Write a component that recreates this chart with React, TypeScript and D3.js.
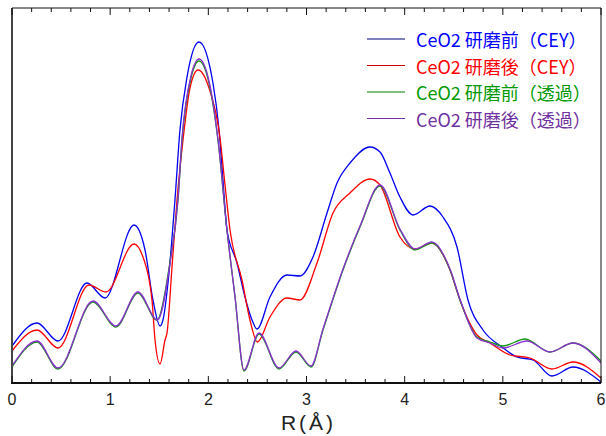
import React from "react";
import * as d3 from "d3";

// R (Å), intensity (arb. units)
const blueCEYBefore: [number, number][] = [
  [0, 0.37], [0.255, 0.6], [0.469, 0.42], [0.764, 1.0], [0.947, 0.85], [1.243, 1.58],
  [1.355, 1.33], [1.436, 0.83], [1.508, 0.57], [1.538, 0.63], [1.589, 1.0], [1.66, 1.83],
  [1.711, 2.53], [1.783, 3.06], [1.905, 3.41], [2.047, 3.0], [2.109, 2.53], [2.149, 2.03],
  [2.19, 1.53], [2.292, 1.2], [2.373, 0.86], [2.445, 0.63], [2.496, 0.54], [2.628, 0.86],
  [2.801, 1.08], [2.934, 1.07], [3.066, 1.26], [3.209, 1.7], [3.311, 2.0], [3.443, 2.2],
  [3.647, 2.36], [3.749, 2.31], [3.85, 2.1], [3.952, 1.86], [4.085, 1.68], [4.258, 1.77],
  [4.39, 1.66], [4.533, 1.36], [4.645, 0.83], [4.798, 0.53], [4.991, 0.36], [5.144, 0.26],
  [5.307, 0.23], [5.501, 0.07], [5.715, 0.16], [6.0, 0.01],
];

const redCEYAfter: [number, number][] = [
  [0, 0.32], [0.255, 0.53], [0.469, 0.35], [0.784, 0.98], [0.957, 0.91], [1.243, 1.39],
  [1.334, 1.26], [1.426, 0.83], [1.457, 0.43], [1.508, 0.19], [1.559, 0.43], [1.579, 0.5],
  [1.63, 1.16], [1.681, 1.83], [1.742, 2.43], [1.813, 2.95], [1.895, 3.13], [2.007, 2.95],
  [2.119, 2.45], [2.17, 1.98], [2.221, 1.53], [2.343, 1.03], [2.424, 0.63], [2.5, 0.41],
  [2.628, 0.66], [2.801, 0.85], [2.934, 0.83], [3.107, 1.2], [3.27, 1.7], [3.443, 1.9],
  [3.647, 2.04], [3.749, 1.98], [3.952, 1.46], [4.105, 1.34], [4.278, 1.4], [4.462, 1.13],
  [4.563, 0.83], [4.737, 0.48], [4.869, 0.4], [5.073, 0.28], [5.277, 0.25], [5.501, 0.14],
  [5.715, 0.21], [6.0, 0.05],
];

const greenTransBefore: [number, number][] = [
  [0, 0.16], [0.255, 0.41], [0.469, 0.14], [0.825, 0.81], [1.059, 0.56], [1.283, 0.9],
  [1.477, 0.63], [1.609, 1.21], [1.691, 1.83], [1.732, 2.43], [1.823, 3.05], [1.905, 3.22],
  [1.997, 3.04], [2.098, 2.43], [2.19, 1.53], [2.272, 0.86], [2.363, 0.12], [2.516, 0.49],
  [2.72, 0.14], [2.893, 0.31], [3.046, 0.16], [3.168, 0.53], [3.372, 1.13], [3.545, 1.56],
  [3.749, 1.97], [3.952, 1.53], [4.105, 1.33], [4.278, 1.4], [4.462, 1.13], [4.563, 0.83],
  [4.737, 0.46], [4.869, 0.41], [5.001, 0.37], [5.226, 0.44], [5.48, 0.31], [5.715, 0.4],
  [6.0, 0.22],
];

const purpleTransAfter: [number, number][] = [
  [0, 0.17], [0.255, 0.42], [0.469, 0.15], [0.825, 0.82], [1.059, 0.57], [1.283, 0.91],
  [1.482, 0.63], [1.612, 1.21], [1.691, 1.84], [1.732, 2.45], [1.823, 3.07], [1.905, 3.24],
  [1.997, 3.06], [2.098, 2.44], [2.19, 1.53], [2.272, 0.86], [2.363, 0.13], [2.516, 0.5],
  [2.72, 0.15], [2.893, 0.32], [3.046, 0.17], [3.168, 0.54], [3.372, 1.14], [3.545, 1.57],
  [3.749, 1.98], [3.952, 1.54], [4.105, 1.34], [4.278, 1.41], [4.462, 1.14], [4.563, 0.84],
  [4.737, 0.45], [4.869, 0.4], [5.001, 0.35], [5.246, 0.42], [5.48, 0.31], [5.715, 0.4],
  [6.0, 0.2],
];

const seriesNames = ["CeO2 研磨前（CEY）", "CeO2 研磨後（CEY）", "CeO2 研磨前（透過）", "CeO2 研磨後（透過）"];
const lineColors = ["#0000f0", "#ff0000", "#119911", "#8a2fd0"];
const textColors = ["#0000ff", "#ff0000", "#009900", "#7030a0"];
const legendLineColors = ["#000080", "#cc0000", "#008000", "#7030a0"];
const xTicks = [0, 1, 2, 3, 4, 5, 6];

const W = 606;
const H = 436;
const left = 12;
const right = 601;
const top = 8;
const bottom = 383;

export default function App() {
  const x = d3.scaleLinear().domain([0, 6]).range([left, right]);
  const y = d3.scaleLinear().domain([0, 3.75]).range([bottom, top]);
  const line = d3
    .line<[number, number]>()
    .x((d) => x(d[0]))
    .y((d) => y(d[1]))
    .curve(d3.curveMonotoneX);
  const all = [blueCEYBefore, redCEYAfter, greenTransBefore, purpleTransAfter];
  const minor = d3.range(0, 6.0001, 0.2);

  return (
    <svg
      width={W}
      height={H}
      style={{ position: "absolute", left: 0, top: 0, background: "#fff" }}
    >
      <defs>
        <clipPath id="plotclip">
          <rect x={left} y={top} width={right - left} height={bottom - top} />
        </clipPath>
      </defs>
      <rect x={0} y={0} width={W} height={H} fill="#fff" />
      <g clipPath="url(#plotclip)">
        {all.map((s, i) => (
          <path key={i} d={line(s) || ""} fill="none" stroke={lineColors[i]} strokeWidth={1.3} />
        ))}
      </g>
      {/* frame */}
      <line x1={left} x2={right} y1={top} y2={top} stroke="#111" strokeWidth={1} />
      <line x1={right} x2={right} y1={top} y2={bottom} stroke="#111" strokeWidth={1} />
      <line x1={left} x2={left} y1={top} y2={bottom + 1} stroke="#444" strokeWidth={2} />
      <line x1={left - 1} x2={right} y1={bottom} y2={bottom} stroke="#111" strokeWidth={1.8} />
      {minor.map((t, i) => {
        const isMajor = Math.abs(t - Math.round(t)) < 1e-6;
        const len = isMajor ? 7 : 4;
        return (
          <g key={i}>
            <line x1={x(t)} x2={x(t)} y1={bottom} y2={bottom - len} stroke="#111" strokeWidth={1} />
            <line x1={x(t)} x2={x(t)} y1={top} y2={top + len} stroke="#111" strokeWidth={1} />
          </g>
        );
      })}
      {xTicks.map((t) => (
        <text
          key={t}
          x={x(t)}
          y={405}
          textAnchor="middle"
          fontFamily="'Liberation Sans', Arial, sans-serif"
          fontSize={16}
          fill="#222"
        >
          {t}
        </text>
      ))}
      <text
        x={(left + right) / 2 + 2}
        y={430}
        textAnchor="middle"
        fontFamily="'Liberation Sans', Arial, sans-serif"
        fontSize={21}
        letterSpacing={3}
        fill="#222"
      >
        R(Å)
      </text>
      {seriesNames.map((n, i) => {
        const cy = 41 + i * 26.5;
        return (
          <g key={n}>
            <line x1={367} x2={405} y1={cy - 2} y2={cy - 2} stroke={legendLineColors[i]} strokeWidth={1.2} />
            <text
              x={416}
              y={cy + 6}
              fontFamily="'Noto Sans CJK JP', 'Noto Sans', sans-serif"
              fontSize={18}
              fill={textColors[i]}
            >
              {n}
            </text>
          </g>
        );
      })}
    </svg>
  );
}
